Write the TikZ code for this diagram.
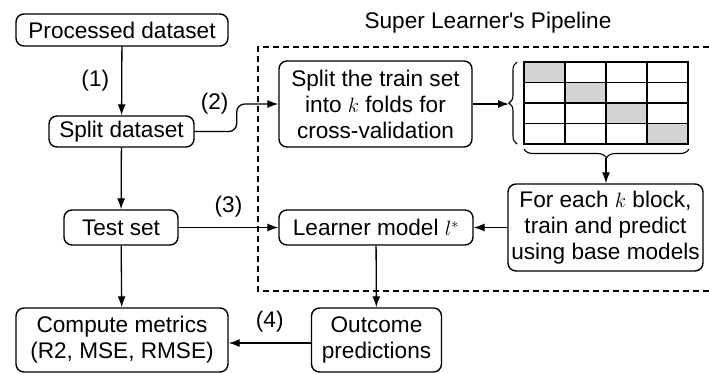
\documentclass[tikz,border=0pt]{standalone}
\usepackage{fontspec}
\setmainfont{Liberation Sans}
\usepackage{tikz}
\usetikzlibrary{arrows.meta,positioning,decorations.pathreplacing}
\definecolor{cellgray}{HTML}{D3D3D3}

\begin{document}
\begin{tikzpicture}[x=1pt, y=-1pt, font=\fontsize{22.6}{26}\selectfont,
        box/.style={draw, line width=1.4pt, rounded corners=8pt, align=center, inner sep=0pt},
        arr/.style={line width=1.3pt, -{Latex[length=11pt,width=8pt]}},
        lbl/.style={inner sep=0pt},
        pipe/.style={line width=1.1pt, dash pattern=on 6pt off 4pt}]
                \useasboundingbox (0,0) rectangle (709,373);
                \node (title) at (488,23) {Super Learner\textquotesingle s Pipeline};
                \draw[pipe] (709,47) -- (258,47) -- (258,291) -- (709,291);
                \node[box, minimum width=212pt, minimum height=32pt] (proc) at (122,30) {Processed dataset};
                \node[box, minimum width=145pt, minimum height=31pt] (sd) at (121.5,131.5) {Split dataset};
                \node[box, minimum width=114pt, minimum height=35pt] (test) at (121,227.5) {Test set};
                \node[box, minimum width=212pt, minimum height=64pt] (metr) at (122,340) {Compute metrics\\(R2, MSE, RMSE)};
                \node[box, minimum width=193pt, minimum height=86pt] (fold) at (375.5,104) {Split the train set\\into $k$ folds for\\cross-validation};
                \node[box, minimum width=195pt, minimum height=87pt] (each) at (605.5,227.5) {For each $k$ block,\\train and predict\\using base models};
                \node[box, minimum width=194pt, minimum height=35pt] (learn) at (376,227.5) {Learner model $l^*$};
                \node[box, minimum width=130pt, minimum height=64pt] (out) at (376.5,340) {Outcome\\predictions};
                \scope[line width=1.8pt]
                    \foreach \r in {0,...,3}
                        \foreach \c in {0,...,3} {
                            \ifnum\r=\c \def\cellfill{cellgray}\else \def\cellfill{white}\fi
                            \draw[fill=\cellfill] (524+41*\c,62+20.5*\r) rectangle ++(41,20.5);
                        }
                \endscope
                \draw[line width=1.1pt, decorate, decoration={brace, amplitude=8pt}] (517,144) -- (517,62);
                \draw[line width=1.1pt, decorate, decoration={brace, amplitude=9pt}] (689,149) -- (524,149);
                \coordinate (lbr) at (509,103);
                \coordinate (bbr) at (606,158);
                \draw[arr] (proc) -- node[lbl, left=12pt] {(1)} (sd);
                \draw[arr, rounded corners=8pt] (sd.east) -- ++(42,0) coordinate (bend) |- (fold.west);
                \node[lbl, above left=17pt and 8pt of bend] (two) {(2)};
                \draw[arr] (fold.east) -- (lbr |- fold.east);
                \draw[arr] (bbr) -- (bbr |- each.north);
                \draw[arr] (each) -- (learn);
                \draw[arr] (sd) -- (test);
                \draw[arr] (test) -- node[lbl, above=10pt] {(3)} (learn);
                \draw[arr] (test) -- (metr);
                \draw[arr] (learn) -- (out);
                \draw[arr] (out.west |- 0,343) -- node[lbl, above=10pt] {(4)} (metr.east |- 0,343);
            \end{tikzpicture}
\end{document}
